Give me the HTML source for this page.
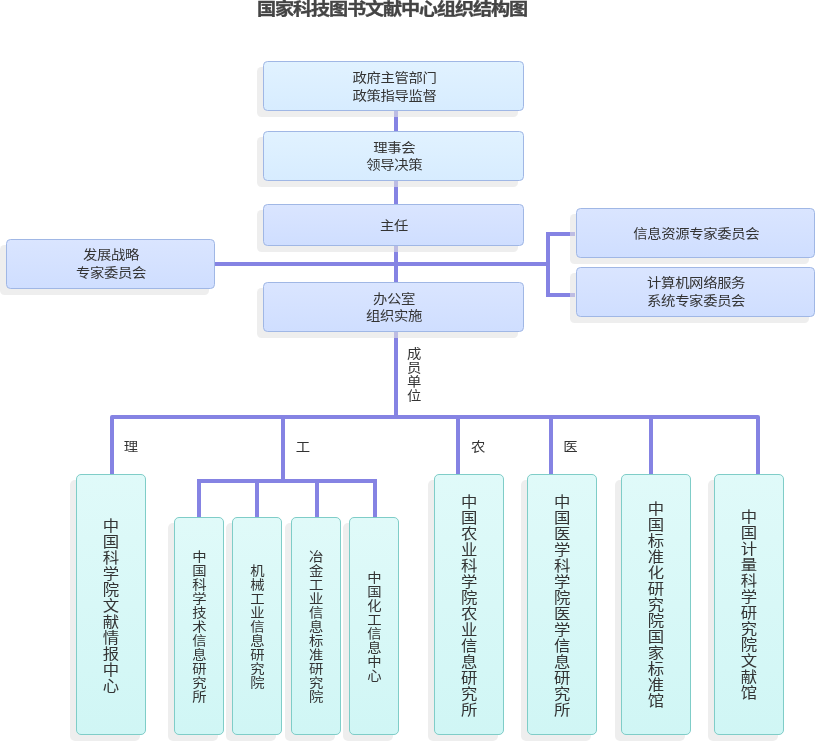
<!DOCTYPE html>
<html lang="zh-CN"><head><meta charset="utf-8"><title>国家科技图书文献中心组织结构图</title>
<style>html,body{margin:0;padding:0;background:#fff}body{width:815px;height:742px;overflow:hidden}svg{display:block;will-change:transform}text{font-family:"Liberation Sans", "Noto Sans CJK SC", sans-serif;fill:#333}.t14{font-size:12.81px}.t16{font-size:14.64px}.ttl{font-size:17.1px;font-weight:bold;fill:#444;stroke:#444;stroke-width:0.35px}</style></head><body>
<svg width="815" height="742" viewBox="0 0 815 742">
<defs><linearGradient id="g1" x1="0" y1="0" x2="0" y2="1"><stop offset="0" stop-color="#e1f2ff"/><stop offset="1" stop-color="#d7ecff"/></linearGradient><linearGradient id="g2" x1="0" y1="0" x2="0" y2="1"><stop offset="0" stop-color="#dae5ff"/><stop offset="1" stop-color="#cfdeff"/></linearGradient><linearGradient id="g3" x1="0" y1="0" x2="0" y2="1"><stop offset="0" stop-color="#e0faf9"/><stop offset="1" stop-color="#d0f6f5"/></linearGradient></defs>
<rect width="815" height="742" fill="#fff"/>
<line x1="396" y1="110" x2="396" y2="417" stroke="#8583e3" stroke-width="4" stroke-linecap="butt"/>
<line x1="214" y1="264" x2="548" y2="264" stroke="#8583e3" stroke-width="4" stroke-linecap="butt"/>
<polyline points="575,234 548,234 548,295 575,295" fill="none" stroke="#8583e3" stroke-width="4" stroke-linejoin="miter"/>
<polyline points="112,474 112,417 758,417 758,474" fill="none" stroke="#8583e3" stroke-width="4" stroke-linejoin="round"/>
<line x1="283" y1="417" x2="283" y2="481" stroke="#8583e3" stroke-width="4" stroke-linecap="butt"/>
<line x1="458" y1="417" x2="458" y2="474" stroke="#8583e3" stroke-width="4" stroke-linecap="butt"/>
<line x1="551" y1="417" x2="551" y2="474" stroke="#8583e3" stroke-width="4" stroke-linecap="butt"/>
<line x1="651" y1="417" x2="651" y2="474" stroke="#8583e3" stroke-width="4" stroke-linecap="butt"/>
<polyline points="199,517 199,481 375,481 375,517" fill="none" stroke="#8583e3" stroke-width="4" stroke-linejoin="miter"/>
<line x1="257" y1="481" x2="257" y2="517" stroke="#8583e3" stroke-width="4" stroke-linecap="butt"/>
<line x1="317" y1="481" x2="317" y2="517" stroke="#8583e3" stroke-width="4" stroke-linecap="butt"/>
<rect x="257" y="67" width="261" height="50" rx="4.5" fill="#e3e3e3" fill-opacity="0.6"/>
<rect x="257" y="137" width="261" height="50" rx="4.5" fill="#e3e3e3" fill-opacity="0.6"/>
<rect x="257" y="210" width="261" height="42" rx="4.5" fill="#e3e3e3" fill-opacity="0.6"/>
<rect x="257" y="288" width="261" height="50" rx="4.5" fill="#e3e3e3" fill-opacity="0.6"/>
<rect x="0" y="245" width="209" height="50" rx="4.5" fill="#e3e3e3" fill-opacity="0.6"/>
<rect x="570" y="214" width="239" height="50" rx="4.5" fill="#e3e3e3" fill-opacity="0.6"/>
<rect x="570" y="273" width="239" height="50" rx="4.5" fill="#e3e3e3" fill-opacity="0.6"/>
<rect x="70" y="480" width="70" height="261" rx="5" fill="#e3e3e3" fill-opacity="0.6"/>
<rect x="428" y="480" width="70" height="261" rx="5" fill="#e3e3e3" fill-opacity="0.6"/>
<rect x="521" y="480" width="70" height="261" rx="5" fill="#e3e3e3" fill-opacity="0.6"/>
<rect x="615" y="480" width="70" height="261" rx="5" fill="#e3e3e3" fill-opacity="0.6"/>
<rect x="708" y="480" width="70" height="261" rx="5" fill="#e3e3e3" fill-opacity="0.6"/>
<rect x="168" y="523" width="50" height="218" rx="5" fill="#e3e3e3" fill-opacity="0.6"/>
<rect x="226" y="523" width="50" height="218" rx="5" fill="#e3e3e3" fill-opacity="0.6"/>
<rect x="285" y="523" width="50" height="218" rx="5" fill="#e3e3e3" fill-opacity="0.6"/>
<rect x="343" y="523" width="50" height="218" rx="5" fill="#e3e3e3" fill-opacity="0.6"/>
<rect x="263.5" y="61.5" width="260" height="49" rx="4" fill="url(#g1)" stroke="#a0b7e5" stroke-width="1"/>
<rect x="263.5" y="131.5" width="260" height="49" rx="4" fill="url(#g1)" stroke="#a0b7e5" stroke-width="1"/>
<rect x="263.5" y="204.5" width="260" height="41" rx="4" fill="url(#g2)" stroke="#a0b7e5" stroke-width="1"/>
<rect x="263.5" y="282.5" width="260" height="49" rx="4" fill="url(#g2)" stroke="#a0b7e5" stroke-width="1"/>
<rect x="6.5" y="239.5" width="208" height="49" rx="4" fill="url(#g2)" stroke="#a0b7e5" stroke-width="1"/>
<rect x="576.5" y="208.5" width="238" height="49" rx="4" fill="url(#g2)" stroke="#a0b7e5" stroke-width="1"/>
<rect x="576.5" y="267.5" width="238" height="49" rx="4" fill="url(#g2)" stroke="#a0b7e5" stroke-width="1"/>
<rect x="76.5" y="474.5" width="69" height="260" rx="4.5" fill="url(#g3)" stroke="#7fcdc8" stroke-width="1"/>
<rect x="434.5" y="474.5" width="69" height="260" rx="4.5" fill="url(#g3)" stroke="#7fcdc8" stroke-width="1"/>
<rect x="527.5" y="474.5" width="69" height="260" rx="4.5" fill="url(#g3)" stroke="#7fcdc8" stroke-width="1"/>
<rect x="621.5" y="474.5" width="69" height="260" rx="4.5" fill="url(#g3)" stroke="#7fcdc8" stroke-width="1"/>
<rect x="714.5" y="474.5" width="69" height="260" rx="4.5" fill="url(#g3)" stroke="#7fcdc8" stroke-width="1"/>
<rect x="174.5" y="517.5" width="49" height="217" rx="4.5" fill="url(#g3)" stroke="#7fcdc8" stroke-width="1"/>
<rect x="232.5" y="517.5" width="49" height="217" rx="4.5" fill="url(#g3)" stroke="#7fcdc8" stroke-width="1"/>
<rect x="291.5" y="517.5" width="49" height="217" rx="4.5" fill="url(#g3)" stroke="#7fcdc8" stroke-width="1"/>
<rect x="349.5" y="517.5" width="49" height="217" rx="4.5" fill="url(#g3)" stroke="#7fcdc8" stroke-width="1"/>
<text class="ttl" text-anchor="middle" transform="scale(1.12,1)" x="237.95 254.02 270.09 286.16 302.23 318.3 334.37 350.45 366.52 382.59 398.66 414.73 430.8 446.87 462.95" y="15.48">国家科技图书文献中心组织结构图</text>
<text class="t14" text-anchor="middle" transform="scale(1.12,1)" x="321.07 333.57 346.07 358.57 371.07 383.57" y="82">政府主管部门</text>
<text class="t14" text-anchor="middle" transform="scale(1.12,1)" x="321.07 333.57 346.07 358.57 371.07 383.57" y="99.6">政策指导监督</text>
<text class="t14" text-anchor="middle" transform="scale(1.12,1)" x="339.73 352.23 364.73" y="151.6">理事会</text>
<text class="t14" text-anchor="middle" transform="scale(1.12,1)" x="333.48 345.98 358.48 370.98" y="169.2">领导决策</text>
<text class="t14" text-anchor="middle" transform="scale(1.12,1)" x="345.71 358.21" y="230.3">主任</text>
<text class="t14" text-anchor="middle" transform="scale(1.12,1)" x="339.46 351.96 364.46" y="302.6">办公室</text>
<text class="t14" text-anchor="middle" transform="scale(1.12,1)" x="333.21 345.71 358.21 370.71" y="320.2">组织实施</text>
<text class="t14" text-anchor="middle" transform="scale(1.12,1)" x="80.45 92.95 105.45 117.95" y="259.5">发展战略</text>
<text class="t14" text-anchor="middle" transform="scale(1.12,1)" x="74.2 86.7 99.2 111.7 124.2" y="277.1">专家委员会</text>
<text class="t14" text-anchor="middle" transform="scale(1.12,1)" x="571.88 584.38 596.88 609.37 621.87 634.37 646.87 659.37 671.87" y="237.7">信息资源专家委员会</text>
<text class="t14" text-anchor="middle" transform="scale(1.12,1)" x="584.2 596.7 609.2 621.7 634.2 646.7 659.2" y="287.5">计算机网络服务</text>
<text class="t14" text-anchor="middle" transform="scale(1.12,1)" x="584.2 596.7 609.2 621.7 634.2 646.7 659.2" y="305.2">系统专家委员会</text>
<text class="t14" text-anchor="middle" transform="scale(1.12,1)" x="369.82 369.82 369.82 369.82" y="358.4 372.4 386.4 400.4">成员单位</text>
<text class="t14" text-anchor="middle" transform="scale(1.12,1)" x="116.96" y="450.8">理</text>
<text class="t14" text-anchor="middle" transform="scale(1.12,1)" x="270.54" y="450.8">工</text>
<text class="t14" text-anchor="middle" transform="scale(1.12,1)" x="427.05" y="450.8">农</text>
<text class="t14" text-anchor="middle" transform="scale(1.12,1)" x="509.2" y="450.8">医</text>
<text class="t16" text-anchor="middle" transform="scale(1.12,1)" x="99.11 99.11 99.11 99.11 99.11 99.11 99.11 99.11 99.11 99.11 99.11" y="530.99 546.99 562.99 578.99 594.99 610.99 626.99 642.99 658.99 674.99 690.99">中国科学院文献情报中心</text>
<text class="t16" text-anchor="middle" transform="scale(1.12,1)" x="418.84 418.84 418.84 418.84 418.84 418.84 418.84 418.84 418.84 418.84 418.84 418.84 418.84 418.84" y="506.99 522.99 538.99 554.99 570.99 586.99 602.99 618.99 634.99 650.99 666.99 682.99 698.99 714.99">中国农业科学院农业信息研究所</text>
<text class="t16" text-anchor="middle" transform="scale(1.12,1)" x="501.96 501.96 501.96 501.96 501.96 501.96 501.96 501.96 501.96 501.96 501.96 501.96 501.96 501.96" y="506.99 522.99 538.99 554.99 570.99 586.99 602.99 618.99 634.99 650.99 666.99 682.99 698.99 714.99">中国医学科学院医学信息研究所</text>
<text class="t16" text-anchor="middle" transform="scale(1.12,1)" x="585.71 585.71 585.71 585.71 585.71 585.71 585.71 585.71 585.71 585.71 585.71 585.71 585.71" y="513.99 529.99 545.99 561.99 577.99 593.99 609.99 625.99 641.99 657.99 673.99 689.99 705.99">中国标准化研究院国家标准馆</text>
<text class="t16" text-anchor="middle" transform="scale(1.12,1)" x="668.75 668.75 668.75 668.75 668.75 668.75 668.75 668.75 668.75 668.75 668.75 668.75" y="521.99 537.99 553.99 569.99 585.99 601.99 617.99 633.99 649.99 665.99 681.99 697.99">中国计量科学研究院文献馆</text>
<text class="t14" text-anchor="middle" transform="scale(1.12,1)" x="177.95 177.95 177.95 177.95 177.95 177.95 177.95 177.95 177.95 177.95 177.95" y="561.2 575.2 589.2 603.2 617.2 631.2 645.2 659.2 673.2 687.2 701.2">中国科学技术信息研究所</text>
<text class="t14" text-anchor="middle" transform="scale(1.12,1)" x="229.91 229.91 229.91 229.91 229.91 229.91 229.91 229.91 229.91" y="575.2 589.2 603.2 617.2 631.2 645.2 659.2 673.2 687.2">机械工业信息研究院</text>
<text class="t14" text-anchor="middle" transform="scale(1.12,1)" x="282.23 282.23 282.23 282.23 282.23 282.23 282.23 282.23 282.23 282.23 282.23" y="561.2 575.2 589.2 603.2 617.2 631.2 645.2 659.2 673.2 687.2 701.2">冶金工业信息标准研究院</text>
<text class="t14" text-anchor="middle" transform="scale(1.12,1)" x="334.2 334.2 334.2 334.2 334.2 334.2 334.2 334.2" y="582.2 596.2 610.2 624.2 638.2 652.2 666.2 680.2">中国化工信息中心</text>
</svg></body></html>
